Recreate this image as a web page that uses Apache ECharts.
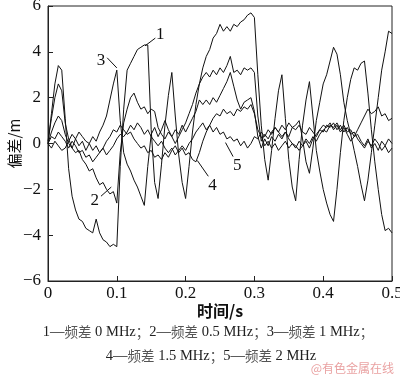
<!DOCTYPE html>
<html>
<head>
<meta charset="utf-8">
<script src="https://cdn.jsdelivr.net/npm/echarts@6/dist/echarts.min.js"></script>
<style>
  html, body { margin: 0; padding: 0; background: #fff; }
  #chart { width: 400px; height: 376px; }
</style>
</head>
<body>
<div id="chart"></div>
<script>
// sample step of the recorded deviation, s
const dt = 0.005;

// deviation (m) for each frequency difference, one value per sample
const dev0 = [0.0, 1.3, 2.6, 3.4, 3.2, 1.1, -1.1, -2.3, -2.9, -3.3,
  -3.4, -3.7, -3.8, -3.9, -3.3, -3.9, -4.2, -4.3, -4.5, -4.4,
  -4.5, -1.0, 1.5, 3.2, 3.5, 3.8, 4.1, 4.2, 4.3, 4.3,
  0.6, -1.7, -2.4, -0.9, 0.8, 2.1, 3.1, 1.2, -0.5, -1.7,
  -2.4, -1.0, 0.5, 1.7, 2.6, 3.3, 3.8, 4.1, 4.6, 4.8,
  5.2, 4.9, 5.1, 4.9, 5.2, 5.1, 5.3, 5.4, 5.6, 5.7,
  5.5, 3.0, 0.8, -0.7, -1.6, -0.3, 1.1, 2.3, 3.0, 1.1,
  -0.7, -1.9, -2.5, -0.7, 0.8, 1.9, 2.7, 1.2, -0.3, -1.2,
  -2.0, -2.6, -3.1, -3.4, -2.0, -0.4, 1.0, 2.0, 2.8, 3.3,
  3.2, 3.5, 3.6, 2.2, 0.6, -0.8, -2.0, -3.1, -3.8, -3.7, -3.9];
const dev05 = [0.0, 0.5, 0.9, 1.2, 1.0, 0.4, 0.0, -0.2, -0.4, -0.3,
  -0.7, -0.9, -1.2, -1.1, -1.5, -1.8, -1.7, -2.0, -2.2, -2.1,
  -2.6, -0.4, 0.9, 1.5, 2.0, 2.2, 1.8, 1.5, 1.6, 1.3,
  1.5, 1.4, 0.7, 0.4, 0.2, 0.5, 0.3, 0.0, 0.3, 0.6,
  0.9, 1.3, 1.7, 2.2, 2.6, 2.9, 3.1, 2.9, 3.2, 3.0,
  3.3, 3.1, 3.4, 3.8, 3.1, 3.2, 3.0, 3.3, 3.2, 3.3,
  3.1, 1.2, 0.1, 0.4, 0.2, 0.5, 0.7, 0.5, 0.8, 0.6,
  0.9, 0.7, 0.6, 0.8, 0.5, 0.4, 0.7, 0.5, 0.3, 0.6,
  0.8, 0.7, 0.9, 0.6, 0.8, 0.5, 0.7, 0.4, 0.1, 0.3,
  0.6, 0.9, 1.2, 1.5, 1.3, 1.4, 1.6, 1.2, 1.3, 1.0, 1.1];
const dev1 = [0.1, 1.1, 2.0, 2.6, 2.3, 0.9, 0.2, -0.2, 0.2, -0.1,
  0.1, -0.3, 0.0, 0.3, 0.1, 0.5, 0.8, 1.2, 1.9, 2.6,
  3.2, 1.0, -0.4, -0.9, -1.2, -1.6, -1.9, -2.3, -2.7, -1.0,
  0.4, 0.7, 0.3, 0.6, 1.0, 0.6, 0.3, 0.6, 0.4, 0.8,
  0.5, 0.8, 1.1, 1.4, 1.9, 1.7, 1.9, 1.7, 2.0, 1.8,
  2.1, 2.4, 2.7, 3.1, 2.5, 1.9, 1.5, 1.8, 1.9, 2.0,
  1.4, 0.3, -0.2, 0.2, -0.1, 0.3, 0.1, 0.4, 0.2, 0.5,
  0.3, 0.7, 0.8, 1.0, 0.2, -0.8, -1.3, -0.2, 1.0, 1.8,
  2.6, 3.0, 3.6, 4.2, 3.9, 3.0, 1.8, 1.0, 0.4, -0.3,
  -1.0, -1.8, -2.5, -1.6, -0.4, 0.8, 2.0, 3.2, 4.0, 4.9, 4.8];
const dev15 = [0.0, 0.3, 0.2, 0.5, 0.3, 0.1, -0.2, 0.1, -0.1, -0.4,
  -0.3, -0.6, -0.5, -0.8, -0.6, -0.4, -0.2, 0.1, 0.3, 0.6,
  0.5, 0.8, 0.6, 0.4, 0.5, 0.2, 0.0, -0.2, -0.1, -0.4,
  -0.3, -0.6, -0.5, -0.7, -0.4, -0.6, -0.3, -0.1, -0.4, -0.2,
  -0.5, -0.4, -0.7, -0.8, -0.4, 0.1, 0.5, 0.8, 1.1, 1.3,
  1.2, 1.5, 1.3, 1.4, 1.2, 1.5, 1.4, 1.6, 1.5, 1.7,
  1.3, 0.6, 0.3, -0.1, 0.1, -0.2, 0.0, -0.3, -0.1, 0.1,
  -0.2, 0.0, -0.1, -0.3, -0.1, 0.1, -0.2, 0.2, 0.4, 0.6,
  0.5, 0.8, 0.7, 0.9, 0.6, 0.8, 0.5, 0.7, 0.4, 0.5,
  0.2, 0.0, -0.2, 0.1, -0.1, 0.2, 0.0, -0.3, -0.1, -0.4, -0.2];
const dev2 = [0.0, -0.2, 0.1, -0.1, -0.3, -0.2, 0.1, 0.4, 0.2, 0.5,
  0.3, 0.1, 0.0, -0.3, -0.1, -0.4, -0.2, -0.5, -0.3, -0.1,
  0.2, 0.4, 0.3, 0.5, 0.8, 0.6, 0.9, 0.7, 0.4, 0.6,
  0.3, 0.1, -0.1, 0.1, -0.2, -0.4, -0.2, -0.5, -0.3, -0.1,
  -0.3, 0.0, 0.2, 0.5, 0.7, 0.9, 0.6, 0.8, 0.5, 0.7,
  0.4, 0.5, 0.2, 0.3, 0.1, 0.2, -0.1, 0.1, -0.2, 0.0,
  0.3, 0.2, 0.5, 0.3, 0.6, 0.4, 0.7, 0.5, 0.3, 0.5,
  0.2, 0.0, -0.2, 0.1, -0.1, 0.2, 0.0, 0.3, 0.1, 0.4,
  0.6, 0.5, 0.8, 0.7, 0.9, 0.6, 0.8, 0.5, 0.6, 0.3,
  0.4, 0.1, -0.1, 0.2, -0.2, 0.0, -0.3, 0.1, -0.1, 0.2, 0.0];

const curves = [dev0, dev05, dev1, dev15, dev2];
const curveNames = ['频差 0 MHz', '频差 0.5 MHz', '频差 1 MHz', '频差 1.5 MHz', '频差 2 MHz'];

// curve numbers drawn on the plot, with their leader lines (data coords)
const tagText = ['1', '2', '3', '4', '5'];
const tagAt = [[0.163, 4.74], [0.068, -2.48], [0.077, 3.62], [0.239, -1.83], [0.275, -0.96]];
const tagFrom = [[0.156, 4.6], [0.077, -2.3], [0.086, 3.74], [0.233, -1.43], [0.269, -0.57]];
const tagTo = [[0.141, 4.26], [0.092, -1.9], [0.1, 3.3], [0.217, -0.74], [0.258, 0.04]];

const serif = 'Liberation Serif';
const cjk = 'Noto Sans CJK SC';

const chart = echarts.init(document.getElementById('chart'));

const option = {
  backgroundColor: '#fff',
  animation: false,
  grid: {
    left: 48,
    right: 8,
    top: 6,
    bottom: 95,
    outerBoundsMode: 'none',
    containLabel: false,
    show: true,
    borderColor: '#222',
    borderWidth: 1,
  },
  xAxis: {
    type: 'value',
    min: 0,
    max: 0.5,
    interval: 0.1,
    name: '时间/s',
    nameLocation: 'middle',
    nameGap: 22,
    nameMoveOverlap: false,
    nameTextStyle: { fontFamily: cjk, fontSize: 16, fontWeight: 'bold', color: '#111' },
    axisLine: { show: true, onZero: false, lineStyle: { color: '#222', width: 1 } },
    axisTick: { show: true, inside: true, length: 5, lineStyle: { color: '#222' } },
    axisLabel: { color: '#111', fontFamily: serif, fontSize: 17, margin: 4 },
    splitLine: { show: false },
  },
  yAxis: {
    type: 'value',
    min: -6,
    max: 6,
    interval: 2,
    name: '偏差/m',
    nameLocation: 'middle',
    nameGap: 26,
    nameMoveOverlap: false,
    nameTextStyle: { fontFamily: cjk, fontSize: 15, color: '#111' },
    axisLine: { show: true, onZero: false, lineStyle: { color: '#222', width: 1 } },
    axisTick: { show: true, inside: true, length: 5, lineStyle: { color: '#222' } },
    axisLabel: {
      color: '#111',
      fontFamily: serif,
      fontSize: 17,
      margin: 7,
      formatter: (v) => String(v).replace('-', '−'),
    },
    splitLine: { show: false },
  },
  series: curves.map((vals, k) => ({
    name: curveNames[k],
    type: 'line',
    showSymbol: false,
    symbol: 'none',
    lineStyle: { color: '#111', width: 1 },
    data: vals.map((v, i) => [i * dt, v]),
  })),
};

chart.setOption(option);

// place curve numbers and captions once the scales exist
const px = (p) => chart.convertToPixel({ gridIndex: 0 }, p);
const graphic = [];
tagText.forEach((txt, k) => {
  const a = px(tagFrom[k]);
  const b = px(tagTo[k]);
  const c = px(tagAt[k]);
  graphic.push({
    type: 'line',
    shape: { x1: a[0], y1: a[1], x2: b[0], y2: b[1] },
    style: { stroke: '#111', lineWidth: 1 },
  });
  graphic.push({
    type: 'text',
    x: c[0],
    y: c[1],
    style: {
      text: txt, fill: '#111', font: '17px "' + serif + '"',
      textAlign: 'center', textVerticalAlign: 'middle',
    },
  });
});

const rich = {
  n: { fontFamily: serif, fontSize: 14.5, fill: '#222' },
  c: { fontFamily: cjk, fontSize: 13.5, fill: '#555' },
};
const capLine = (idx) => idx.map((k) => {
  const parts = curveNames[k].split(' ');
  return '{n|' + (k + 1) + '—}{c|' + parts[0] + '}{n| ' + parts.slice(1).join(' ') + '}{c|；}';
}).join('');
const line2 = capLine([3, 4]).replace(/\{c\|；\}$/, '');
graphic.push({
  type: 'text', x: 208, y: 332,
  style: { text: capLine([0, 1, 2]), rich, textAlign: 'center', textVerticalAlign: 'middle' },
});
graphic.push({
  type: 'text', x: 211, y: 356,
  style: { text: line2, rich, textAlign: 'center', textVerticalAlign: 'middle' },
});
graphic.push({
  type: 'text', x: 394, y: 368,
  style: {
    text: '@有色金属在线', fill: 'rgba(225,130,130,0.75)',
    font: '12px "' + cjk + '"', textAlign: 'right', textVerticalAlign: 'middle',
  },
});

chart.setOption({ graphic });
</script>
</body>
</html>
